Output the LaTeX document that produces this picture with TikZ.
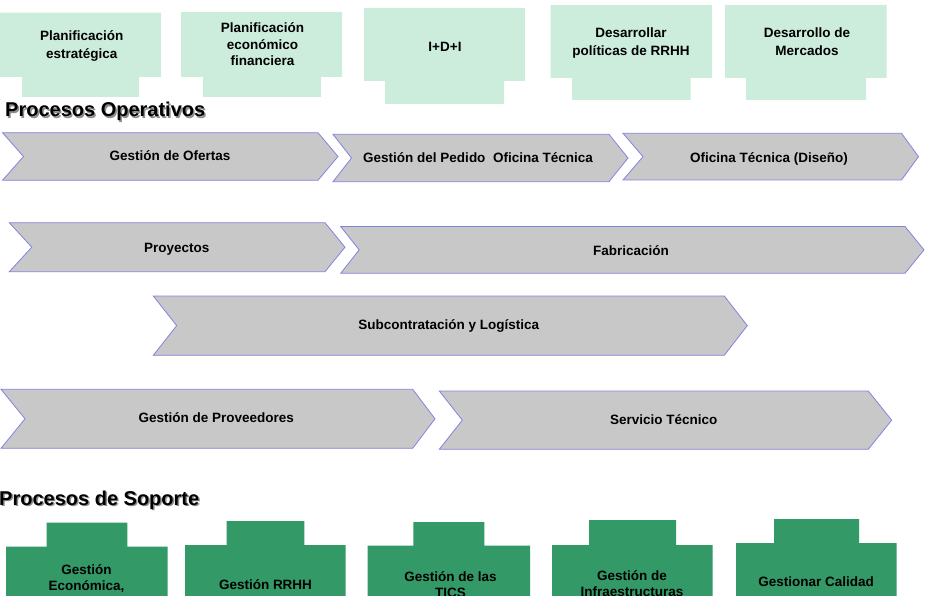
\documentclass[tikz,border=0pt]{standalone}
\usepackage{fontspec}
\setmainfont{Liberation Sans}
\definecolor{lgreen}{RGB}{204,236,220}
\definecolor{dgreen}{RGB}{51,153,102}
\definecolor{chgray}{RGB}{200,200,200}
\definecolor{chline}{RGB}{130,130,225}
\newcommand{\chevron}[6]{%
  \pgfmathsetmacro\chvym{(#3+#4)/2}%
  \pgfmathsetmacro\chvxn{#1+#5}%
  \pgfmathsetmacro\chvxt{#2+#6}%
  \filldraw[chev] (#1,#3) -- (#2,#3) -- (\chvxt,\chvym) -- (#2,#4) -- (#1,#4) -- (\chvxn,\chvym) -- cycle;}
% x1 x2 ytop ybot tabx1 tabx2 tabybottom
\newcommand{\topbox}[7]{%
  \fill[lgreen] (#1,#3) -- (#2,#3) -- (#2,#4) -- (#6,#4) -- (#6,#7) -- (#5,#7) -- (#5,#4) -- (#1,#4) -- cycle;}
% x1 x2 ymain tabx1 tabx2 tabytop
\newcommand{\botbox}[6]{%
  \fill[dgreen] (#1,600) -- (#1,#3) -- (#4,#3) -- (#4,#6) -- (#5,#6) -- (#5,#3) -- (#2,#3) -- (#2,600) -- cycle;}
\begin{document}
\begin{tikzpicture}[x=1pt,y=-1pt,
  lbl/.style={anchor=base,inner sep=0pt,font=\bfseries\fontsize{13.5}{16}\selectfont},
  ttl/.style={anchor=base west,inner sep=0pt,font=\bfseries\fontsize{20}{24}\selectfont},
  shd/.style={text=black!45},
  chev/.style={fill=chgray,draw=chline,line width=0.8pt,line join=miter}]
\useasboundingbox (0,0) rectangle (929,596);
\clip (0,0) rectangle (929,596);

% strategic boxes
\topbox{0}{161}{12.7}{77}{22}{139}{97}
\topbox{181}{342}{12}{77}{203}{321}{97}
\topbox{364}{525}{8}{81}{385}{504}{104}
\topbox{550.5}{712}{5}{78}{572}{690.5}{100}
\topbox{725}{886.6}{5}{78}{746}{866}{100}
\node[lbl] (b1a) at (81.8,40.7) {Planificación};
\node[lbl] (b1b) at (81.8,58.3) {estratégica};
\node[lbl] (b2a) at (262.5,32.7) {Planificación};
\node[lbl] (b2b) at (262.5,49.4) {económico};
\node[lbl] (b2c) at (262.5,66) {financiera};
\node[lbl] (b3a) at (445,51.7) {I+D+I};
\node[lbl] (b4a) at (631,38) {Desarrollar};
\node[lbl] (b4b) at (631,56) {políticas de RRHH};
\node[lbl] (b5a) at (807,38) {Desarrollo de};
\node[lbl] (b5b) at (807,56) {Mercados};

% title operative
\node[ttl,shd] (t1s) at (6.5,118.2) {Procesos Operativos};
\node[ttl] (t1) at (5,116.7) {Procesos Operativos};

% chevrons
\chevron{2.5}{318}{132.7}{180.3}{21}{20}
\chevron{333}{609}{134.3}{181.7}{18.5}{19}
\chevron{623}{901.5}{133.3}{180}{20}{17}
\chevron{9.3}{325}{222.7}{271.7}{22.5}{20}
\chevron{340.7}{905}{226.5}{273.3}{18.5}{19}
\chevron{153.3}{724.3}{296}{355.3}{23.4}{23}
\chevron{1}{412.7}{389.3}{448.3}{24}{22.3}
\chevron{439.3}{868.3}{391}{449.3}{23}{23.4}
\node[lbl] (c1) at (170,160.7) {Gestión de Ofertas};
\node[lbl] (c2) at (478,163) {Gestión del Pedido\ \ Oficina Técnica};
\node[lbl] (c3) at (769,162.5) {Oficina Técnica (Diseño)};
\node[lbl] (c4) at (176.8,252.3) {Proyectos};
\node[lbl] (c5) at (631,255.5) {Fabricación};
\node[lbl] (c6) at (448.7,329) {Subcontratación y Logística};
\node[lbl] (c7) at (216.2,422) {Gestión de Proveedores};
\node[lbl] (c8) at (663.7,424) {Servicio Técnico};

% title support
\node[ttl,shd] (t2s) at (0.5,506.5) {Procesos de Soporte};
\node[ttl] (t2) at (-1,505) {Procesos de Soporte};

% support boxes
\botbox{6}{167.7}{546.7}{46.7}{127.3}{522.7}
\botbox{185}{345.7}{545}{226.7}{304.3}{521}
\botbox{367.7}{530}{545.7}{413.3}{484.3}{522}
\botbox{552}{712.7}{545}{589}{676}{520}
\botbox{736}{896.7}{543}{774}{859}{519}
\node[lbl] (s1a) at (86.5,574.3) {Gestión};
\node[lbl] (s1b) at (86.5,590.7) {Económica,};
\node[lbl] (s2a) at (265.5,589) {Gestión RRHH};
\node[lbl] (s3a) at (450.5,581) {Gestión de las};
\node[lbl] (s3b) at (450.5,597.5) {TICS};
\node[lbl] (s4a) at (632,580) {Gestión de};
\node[lbl] (s4b) at (632,596.5) {Infraestructuras};
\node[lbl] (s5a) at (816.2,586.7) {Gestionar Calidad};
\end{tikzpicture}
\end{document}
